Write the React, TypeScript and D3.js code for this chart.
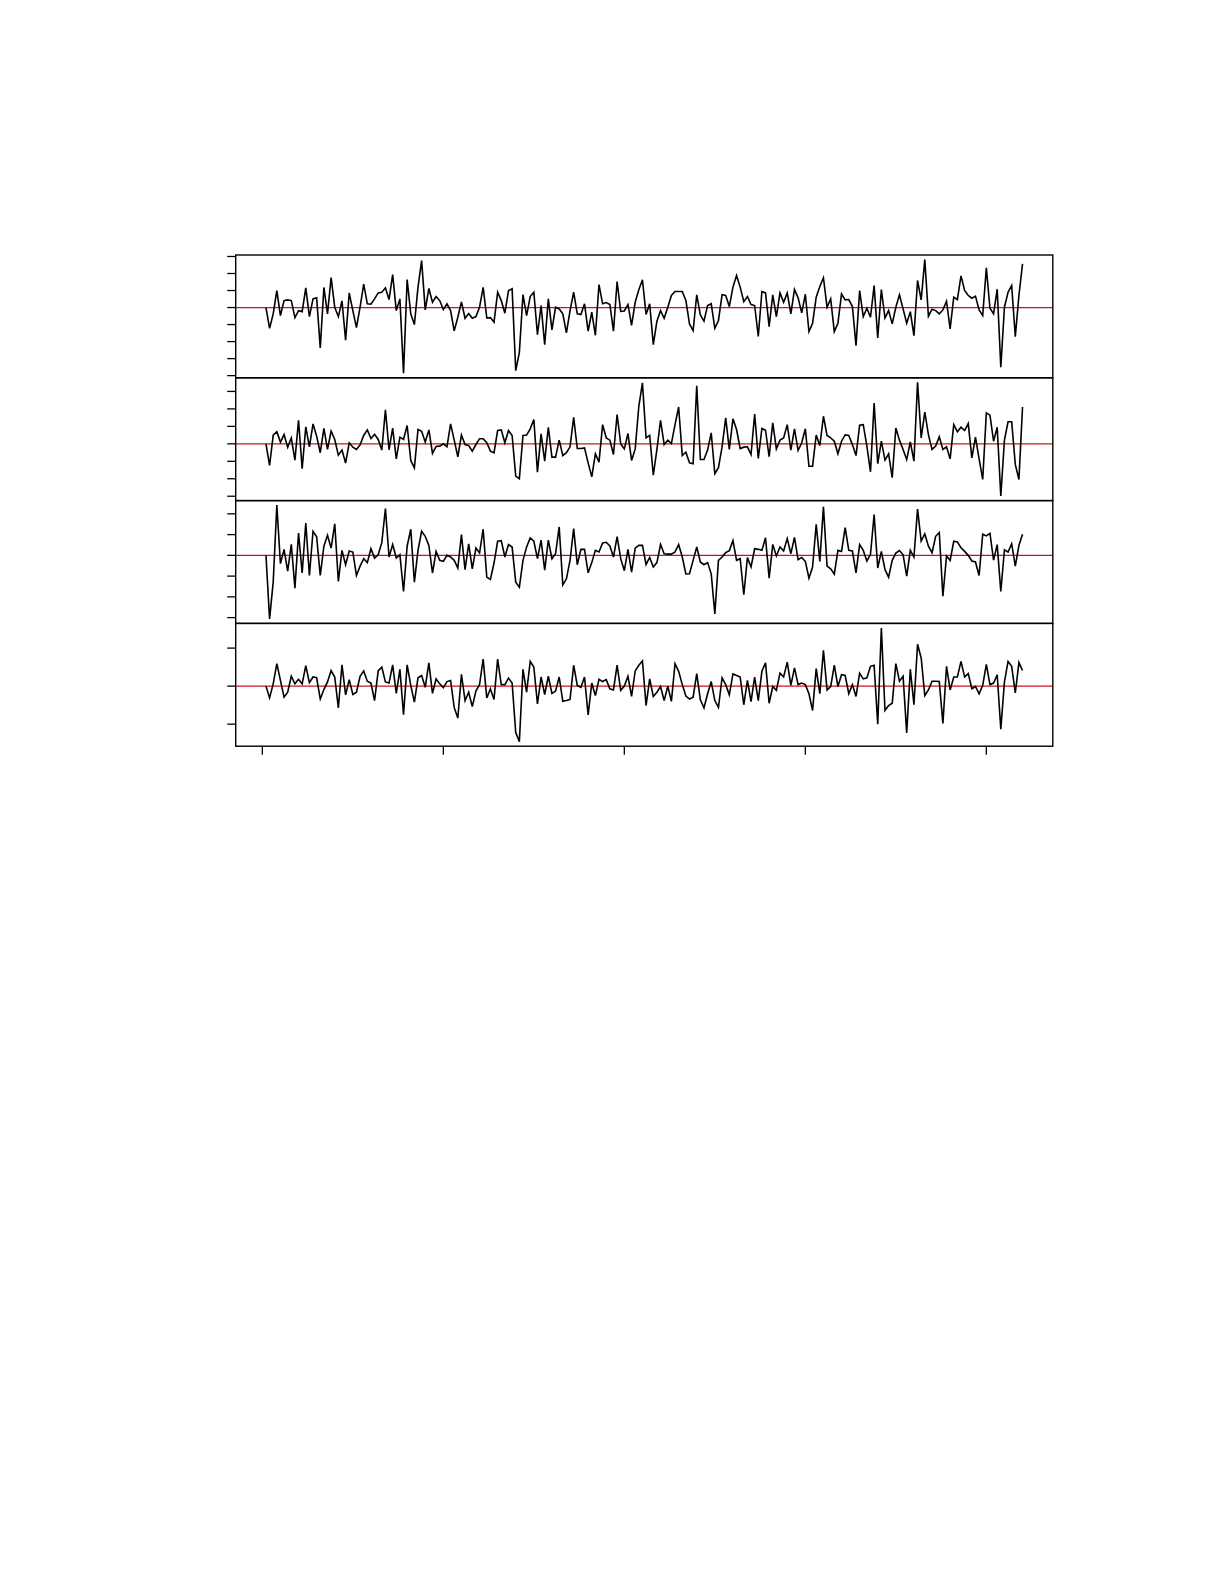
import React, { useEffect, useRef } from 'react';
import * as d3 from 'd3';

const series1 = [
  0, -1.22, -0.37, 1.0, -0.47, 0.41, 0.45, 0.41, -0.59, -0.18,
  -0.24, 1.16, -0.53, 0.51, 0.57, -2.37, 1.18, -0.37, 1.76, 0.02,
  -0.53, 0.39, -1.92, 0.86, -0.18, -1.18, 0.02, 1.37, 0.22, 0.2,
  0.51, 0.86, 0.9, 1.16, 0.47, 1.94, -0.18, 0.51, -3.86, 1.65,
  -0.37, -1.0, 1.2, 2.76, -0.14, 1.12, 0.31, 0.65, 0.41, -0.12,
  0.22, -0.18, -1.37, -0.57, 0.33, -0.63, -0.35, -0.63, -0.53, 0.02,
  1.18, -0.61, -0.59, -0.86, 0.9, 0.41, -0.33, 1.0, 1.1, -3.71,
  -2.63, 0.76, -0.47, 0.65, 0.9, -1.59, 0.12, -2.18, 0.51, -1.31,
  0.02, -0.08, -0.37, -1.49, -0.18, 0.9, -0.37, -0.41, 0.22, -1.39,
  -0.27, -1.63, 1.35, 0.22, 0.29, 0.18, -1.39, 1.53, -0.22, -0.2,
  0.18, -1.04, 0.31, 1.04, 1.63, -0.41, 0.22, -2.18, -0.8, -0.18,
  -0.63, 0.02, 0.71, 0.94, 0.94, 0.94, 0.41, -0.96, -1.35, 0.75,
  -0.43, -0.8, 0.12, 0.22, -1.22, -0.76, 0.75, 0.71, 0.06, 1.2,
  1.88, 1.2, 0.35, 0.65, 0.18, 0.12, -1.69, 0.94, 0.86, -1.12,
  0.75, -0.53, 0.86, 0.31, 0.86, -0.37, 1.06, 0.57, -0.31, 0.78,
  -1.41, -0.92, 0.61, 1.24, 1.75, 0.02, 0.51, -1.41, -0.92, 0.8,
  0.45, 0.47, 0.06, -2.24, 1.0, -0.53, -0.04, -0.57, 1.29, -1.78,
  1.06, -0.61, -0.18, -0.96, 0.02, 0.75, -0.08, -0.92, -0.24, -1.65,
  1.59, 0.45, 2.82, -0.51, -0.1, -0.18, -0.37, -0.14, 0.37, -1.25,
  0.61, 0.47, 1.86, 1.0, 0.71, 0.55, 0.67, -0.14, -0.47, 2.33,
  -0.04, -0.37, 1.08, -3.51, 0.02, 0.9, 1.29, -1.71, 0.71, 2.57,
];

const series2 = [
  0, -1.24, 0.5, 0.69, 0.1, 0.53, -0.19, 0.34, -0.93, 1.35,
  -1.43, 0.97, -0.17, 1.14, 0.44, -0.51, 0.88, -0.32, 0.72, 0.25,
  -0.65, -0.36, -1.1, 0.06, -0.19, -0.32, -0.06, 0.48, 0.8, 0.3,
  0.55, 0.25, -0.36, 1.94, -0.34, 0.9, -0.86, 0.38, 0.25, 1.05,
  -0.95, -1.37, 0.82, 0.72, 0.1, 0.8, -0.55, -0.15, -0.13, 0.0,
  -0.17, 1.14, 0.21, -0.74, 0.5, -0.04, -0.1, -0.42, -0.04, 0.29,
  0.29, 0.06, -0.42, -0.51, 0.76, 0.8, 0.06, 0.76, 0.48, -1.85,
  -2.0, 0.48, 0.5, 0.86, 1.39, -1.62, 0.57, -0.99, 0.95, -0.76,
  -0.76, 0.21, -0.67, -0.51, -0.17, 1.52, -0.27, -0.27, -0.23, -1.09,
  -1.89, -0.57, -1.05, 1.1, 0.34, 0.21, -0.61, 1.68, 0.0, -0.29,
  0.59, -0.95, -0.29, 2.15, 3.49, 0.34, 0.48, -1.79, -0.32, 1.35,
  -0.04, 0.21, 0.02, 1.1, 2.11, -0.67, -0.48, -1.09, -1.14, 3.33,
  -0.9, -0.9, -0.36, 0.63, -1.71, -1.37, -0.17, 1.49, -0.32, 1.43,
  0.82, -0.27, -0.19, -0.17, -0.61, 1.71, -0.84, 0.88, 0.78, -0.74,
  1.2, -0.29, 0.21, 0.34, 1.1, -0.36, 0.86, -0.38, 0.06, 0.86,
  -1.28, -1.28, 0.5, -0.1, 1.58, 0.48, 0.34, 0.15, -0.57, 0.15,
  0.51, 0.48, -0.04, -0.67, 1.07, 1.1, -0.13, -1.6, 2.34, -1.14,
  0.15, -0.93, -0.57, -1.94, 0.91, 0.21, -0.32, -0.9, 0.11, -0.99,
  3.52, 0.34, 1.81, 0.53, -0.32, -0.13, 0.4, -0.32, -0.17, -0.86,
  1.1, 0.69, 0.95, 0.76, 1.16, -0.8, 0.38, -0.86, -2.04, 1.77,
  1.64, 0.15, 0.95, -2.99, 0.21, 1.26, 1.26, -1.18, -2.04, 2.11,
];

const series3 = [
  0, -3.06, -1.29, 2.42, -0.4, 0.29, -0.76, 0.53, -1.58, 1.08,
  -0.85, 1.56, -0.97, 1.16, 0.89, -0.97, 0.44, 0.97, 0.35, 1.52,
  -1.26, 0.24, -0.45, 0.21, 0.16, -0.97, -0.52, -0.16, -0.35, 0.32,
  -0.13, 0.03, 0.61, 2.26, -0.08, 0.52, -0.13, 0.03, -1.74, 0.44,
  1.26, -1.29, 0.24, 1.16, 0.92, 0.48, -0.85, 0.19, -0.24, -0.29,
  0.0, -0.08, -0.24, -0.61, 1.0, -0.69, 0.56, -0.65, 0.35, 0.11,
  1.26, -1.05, -1.16, -0.37, 0.68, 0.71, -0.08, 0.52, 0.4, -1.29,
  -1.53, -0.24, 0.4, 0.84, 0.68, -0.16, 0.73, -0.71, 0.73, -0.16,
  0.08, 1.37, -1.42, -1.13, -0.24, 1.29, -0.45, 0.29, 0.29, -0.84,
  -0.35, 0.24, 0.16, 0.6, 0.63, 0.45, -0.08, 0.9, -0.16, -0.74,
  0.29, -0.81, 0.35, 0.48, 0.48, -0.44, -0.1, -0.56, -0.35, 0.53,
  0.08, 0.06, 0.06, 0.16, 0.52, -0.08, -0.9, -0.89, -0.24, 0.4,
  -0.32, -0.45, -0.35, -0.89, -2.82, -0.24, -0.08, 0.13, 0.23, 0.71,
  -0.24, -0.16, -1.9, -0.11, -0.56, 0.32, 0.29, 0.24, 0.85, -1.1,
  0.53, -0.03, 0.4, 0.21, 0.81, 0.08, 0.87, -0.21, -0.1, -0.29,
  -1.1, -0.56, 1.5, -0.29, 2.34, -0.52, -0.65, -0.9, 0.24, 0.19,
  1.34, 0.24, 0.21, -0.84, 0.52, 0.24, -0.27, 0.05, 1.97, -0.61,
  0.19, -0.68, -1.05, -0.24, 0.11, 0.23, 0.03, -1.0, 0.24, -0.08,
  2.23, 0.69, 1.03, 0.44, 0.13, 0.92, 1.1, -1.97, -0.03, -0.24,
  0.68, 0.65, 0.37, 0.19, 0.0, -0.27, -0.32, -0.97, 1.02, 0.94,
  1.06, -0.23, 0.52, -1.74, 0.27, 0.16, 0.56, -0.52, 0.48, 1.02,
];

const series4 = [
  0, -0.31, 0.06, 0.59, 0.15, -0.29, -0.16, 0.26, 0.06, 0.18,
  0.06, 0.54, 0.09, 0.24, 0.22, -0.34, -0.09, 0.11, 0.41, 0.24,
  -0.57, 0.56, -0.23, 0.17, -0.22, -0.16, 0.26, 0.4, 0.13, 0.08,
  -0.38, 0.4, 0.5, 0.11, 0.08, 0.56, -0.19, 0.44, -0.75, 0.56,
  0.02, -0.42, 0.22, 0.28, -0.03, 0.61, -0.19, 0.19, 0.06, -0.04,
  0.12, 0.15, -0.56, -0.84, 0.31, -0.38, -0.16, -0.54, -0.13, 0.04,
  0.71, -0.31, -0.07, -0.35, 0.71, 0.04, 0.04, 0.21, 0.08, -1.22,
  -1.46, 0.44, -0.16, 0.65, 0.5, -0.47, 0.24, -0.22, 0.26, -0.19,
  -0.13, 0.24, -0.4, -0.38, -0.35, 0.55, 0.02, -0.03, 0.24, -0.76,
  0.08, -0.25, 0.18, 0.12, 0.17, -0.07, -0.1, 0.55, -0.11, 0.0,
  0.26, -0.27, 0.4, 0.55, 0.66, -0.51, 0.19, -0.27, -0.16, -0.01,
  -0.38, 0.0, -0.4, 0.59, 0.39, 0.04, -0.26, -0.34, -0.29, 0.33,
  -0.36, -0.57, -0.2, 0.12, -0.38, -0.56, 0.22, 0.04, -0.23, 0.32,
  0.28, 0.24, -0.49, 0.15, -0.41, 0.24, -0.38, 0.39, 0.61, -0.45,
  -0.01, -0.11, 0.34, 0.24, 0.63, 0.02, 0.48, 0.04, 0.08, 0.04,
  -0.2, -0.64, 0.46, -0.2, 0.94, -0.1, -0.01, 0.55, -0.01, 0.3,
  0.28, -0.2, 0.04, -0.27, 0.34, 0.19, 0.22, 0.52, 0.55, -1.0,
  1.53, -0.64, -0.51, -0.45, 0.59, 0.13, 0.26, -1.23, 0.44, -0.49,
  1.1, 0.74, -0.25, -0.1, 0.13, 0.13, 0.12, -0.98, 0.52, -0.1,
  0.24, 0.24, 0.65, 0.24, 0.33, -0.07, -0.01, -0.2, 0.02, 0.57,
  0.04, 0.08, 0.3, -1.13, 0.11, 0.65, 0.52, -0.18, 0.62, 0.41,
];

const allSeries = [series1, series2, series3, series4];
const xTicks = [0, 50, 100, 150, 200];

const App: React.FC = () => {
  const ref = useRef<SVGSVGElement>(null);

  useEffect(() => {
    if (!ref.current) return;
    const svg = d3.select(ref.current);
    svg.selectAll('*').remove();

    const left = 235.7;
    const right = 1052.8;
    const top = 255;
    const panelH = 122.8;
    const tick = 8.5;

    const n = series1.length;
    const padX = (n - 1) * 0.04;
    const x = d3.scaleLinear().domain([1 - padX, n + padX]).range([left, right]);

    allSeries.forEach((vals, k) => {
      const y0 = top + k * panelH;
      const [lo, hi] = d3.extent(vals) as [number, number];
      const pad = (hi - lo) * 0.04;
      const y = d3.scaleLinear().domain([lo - pad, hi + pad]).range([y0 + panelH, y0]);

      const g = svg.append('g');

      // zero reference line
      g.append('line')
        .attr('x1', left).attr('x2', right)
        .attr('y1', y(0)).attr('y2', y(0))
        .attr('stroke', '#c8161d')
        .attr('stroke-width', 1.3);

      const line = d3.line<number>()
        .x((_, i) => x(i + 1))
        .y(d => y(d));

      g.append('path')
        .datum(vals)
        .attr('d', line)
        .attr('fill', 'none')
        .attr('stroke', '#000')
        .attr('stroke-width', 1.6)
        .attr('stroke-linejoin', 'miter');

      // left ticks, no labels
      const [d0, d1] = y.domain();
      const yt = d3.range(Math.ceil(d0), Math.floor(d1) + 1);
      g.selectAll('.yt')
        .data(yt)
        .enter().append('line')
        .attr('x1', left - tick).attr('x2', left)
        .attr('y1', d => y(d)).attr('y2', d => y(d))
        .attr('stroke', '#000')
        .attr('stroke-width', 1.3);

      g.append('rect')
        .attr('x', left).attr('y', y0)
        .attr('width', right - left).attr('height', panelH)
        .attr('fill', 'none')
        .attr('stroke', '#000')
        .attr('stroke-width', 1.4);
    });

    // bottom axis ticks
    const bottom = top + 4 * panelH;
    svg.selectAll('.xt')
      .data(xTicks)
      .enter().append('line')
      .attr('x1', d => x(d)).attr('x2', d => x(d))
      .attr('y1', bottom).attr('y2', bottom + tick)
      .attr('stroke', '#000')
      .attr('stroke-width', 1.3);
  }, []);

  return (
    <svg
      ref={ref}
      width={1225}
      height={1585}
      style={{ position: 'absolute', left: 0, top: 0, background: '#fff' }}
    />
  );
};

export default App;
